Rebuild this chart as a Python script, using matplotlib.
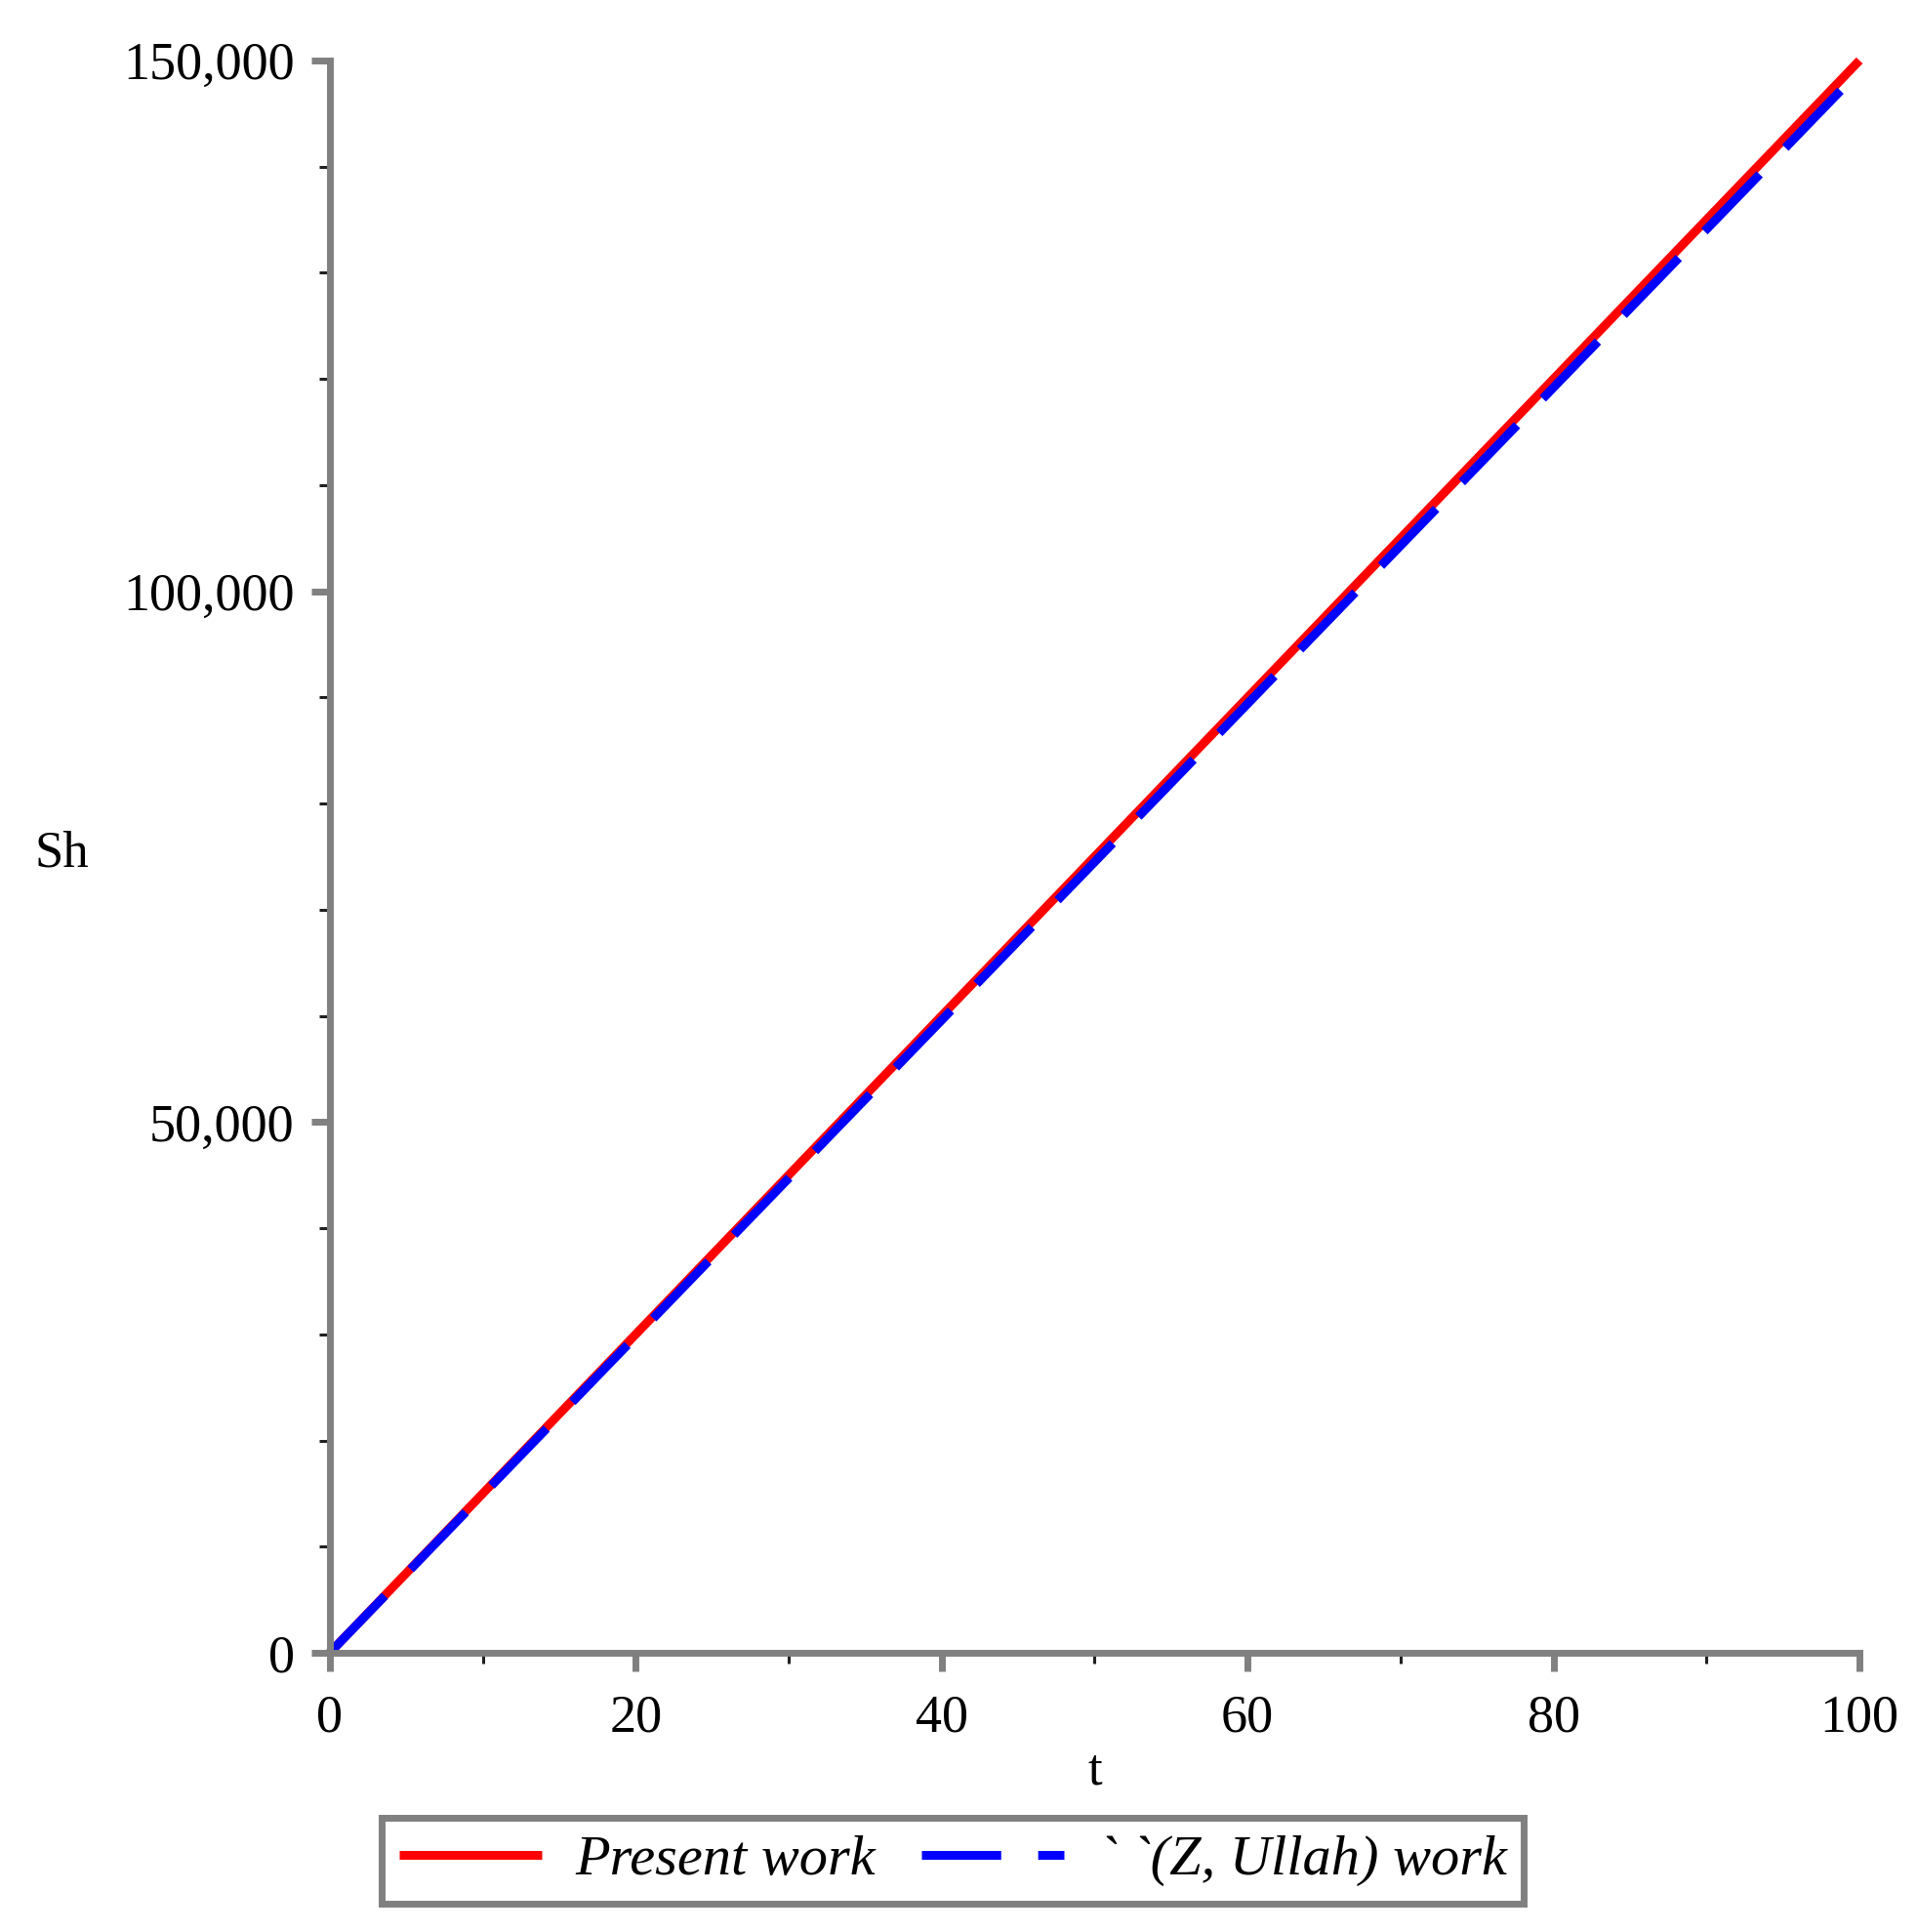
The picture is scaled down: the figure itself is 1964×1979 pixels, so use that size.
import matplotlib
matplotlib.use('Agg')
import matplotlib.pyplot as plt
from matplotlib.ticker import MultipleLocator

# data
t = [0, 20, 40, 60, 80, 100]
present = [0, 30000, 60000, 90000, 120000, 150000]
ullah = [0, 29800, 59600, 89400, 119200, 149000]

xticks = [0, 20, 40, 60, 80, 100]
yticks = [0, 50000, 100000, 150000]
yticklabels = ['0', '50,000', '100,000', '150,000']
labels = ['Present work', '` `(Z, Ullah) work']

plt.rcParams['font.family'] = ['Liberation Serif', 'DejaVu Serif']

fig = plt.figure(figsize=(19.64, 19.79), dpi=100)
ax = fig.add_axes([0.172, 0.1445, 0.798, 0.8242])

ax.plot(t, present, color='#ff0000', lw=6.5, solid_capstyle='butt', clip_on=False, label=labels[0])
ax.plot(t, ullah, color='#0000ff', lw=6.5, dashes=(9, 4.2), dash_capstyle='butt',
        clip_on=False, label=labels[1])

ax.set_xlim(0, 100)
ax.set_ylim(0, 150000)
ax.set_xticks(xticks)
ax.set_xticklabels([str(v) for v in xticks])
ax.set_yticks(yticks)
ax.set_yticklabels(yticklabels)
ax.xaxis.set_minor_locator(MultipleLocator(10))
ax.yaxis.set_minor_locator(MultipleLocator(10000))

for s in ['top', 'right']:
    ax.spines[s].set_visible(False)
for s in ['left', 'bottom']:
    ax.spines[s].set_color('#808080')
    ax.spines[s].set_linewidth(5)

ax.tick_params(which='major', direction='out', length=14, width=5, color='#808080',
               labelsize=39, pad=12)
ax.tick_params(axis='x', which='major', pad=16)
ax.tick_params(which='minor', direction='out', length=8, width=2.2, color='#202020')

fig.text(63 / 1964, 1 - 875 / 1979, 'Sh', fontsize=38, ha='center', va='center')
fig.text(1122 / 1964, 1 - 1815 / 1979, 't', fontsize=38, ha='center', va='center')

leg = fig.legend(loc='center', bbox_to_anchor=(0.497, 0.037), ncol=2,
                 prop={'style': 'italic', 'size': 42}, handlelength=2.5,
                 handletextpad=0.6, columnspacing=0.8, borderpad=0.3,
                 fancybox=False, framealpha=1, edgecolor='#808080')
leg.get_frame().set_linewidth(5)

plt.savefig('out.png', dpi=100)
